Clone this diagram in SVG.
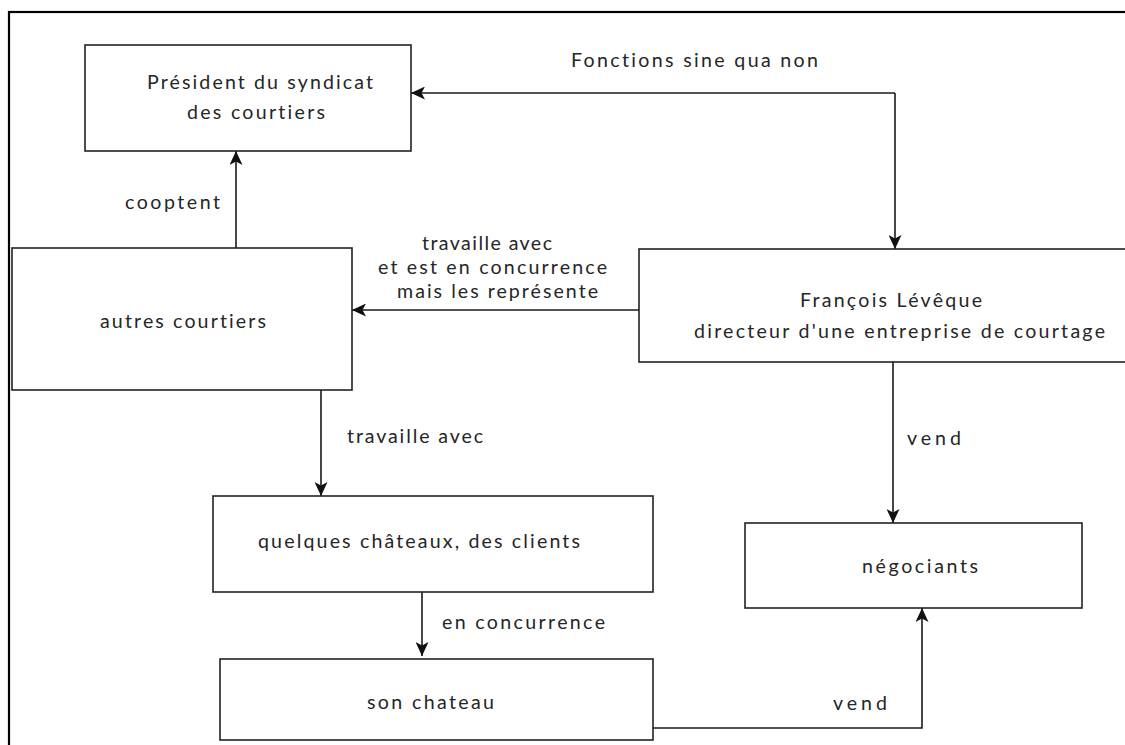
<svg xmlns="http://www.w3.org/2000/svg" width="1125" height="745" viewBox="0 0 1125 745">
  <style>
    .box { fill: #ffffff; stroke: #222222; stroke-width: 1.6; }
    .frame { fill: none; stroke: #000000; stroke-width: 2.2; }
    .edge { fill: none; stroke: #1a1a1a; stroke-width: 1.6; }
    .t { font-family: Lato, "Open Sans", "Liberation Sans", sans-serif; font-size: 19.6px; fill: #262626; font-variant-ligatures: none; }
  </style>
  <defs>
    <marker id="arr" markerUnits="userSpaceOnUse" markerWidth="15" markerHeight="13" refX="14" refY="6.5" orient="auto">
      <path d="M0,0 L14,6.5 L0,13 L3.5,6.5 Z" fill="#111111"/>
    </marker>
  </defs>
  <rect x="0" y="0" width="1125" height="745" fill="#ffffff"/>
  <rect class="frame" x="9" y="12" width="1140" height="760"/>

  <g id="connectors">
    <path class="edge" d="M895,93 L411,93" marker-end="url(#arr)"/>
    <path class="edge" d="M895,93 L895,249" marker-end="url(#arr)"/>
    <path class="edge" d="M236,248 L236,151" marker-end="url(#arr)"/>
    <path class="edge" d="M639,310 L352,310" marker-end="url(#arr)"/>
    <path class="edge" d="M321,390 L321,496" marker-end="url(#arr)"/>
    <path class="edge" d="M893,356 L893,523" marker-end="url(#arr)"/>
    <path class="edge" d="M422,592 L422,656" marker-end="url(#arr)"/>
    <path class="edge" d="M653,728 L922,728 L922,608" marker-end="url(#arr)"/>
    <text class="t" x="571" y="67" textLength="247" lengthAdjust="spacing">Fonctions sine qua non</text>
    <text class="t" x="125" y="209" textLength="95" lengthAdjust="spacing">cooptent</text>
    <text class="t" x="422" y="250" textLength="130" lengthAdjust="spacing">travaille avec</text>
    <text class="t" x="378" y="274" textLength="229" lengthAdjust="spacing">et est en concurrence</text>
    <text class="t" x="397" y="298" textLength="201" lengthAdjust="spacing">mais les représente</text>
    <text class="t" x="907" y="445" textLength="54" lengthAdjust="spacing">vend</text>
    <text class="t" x="347" y="443" textLength="136" lengthAdjust="spacing">travaille avec</text>
    <text class="t" x="442" y="629" textLength="163" lengthAdjust="spacing">en concurrence</text>
    <text class="t" x="833" y="710" textLength="54" lengthAdjust="spacing">vend</text>
  </g>

  <g id="president">
    <rect class="box" x="85" y="45" width="326" height="106"/>
    <text class="t" x="147" y="89" textLength="226" lengthAdjust="spacing">Président du syndicat</text>
    <text class="t" x="187" y="119" textLength="138" lengthAdjust="spacing">des courtiers</text>
  </g>

  <g id="autres-courtiers">
    <rect class="box" x="12" y="248" width="340" height="142"/>
    <text class="t" x="100" y="328" textLength="166" lengthAdjust="spacing">autres courtiers</text>
  </g>

  <g id="francois-leveque">
    <rect class="box" x="639" y="249" width="520" height="113"/>
    <text class="t" x="800" y="307" textLength="182" lengthAdjust="spacing">François Lévêque</text>
    <text class="t" x="694" y="338" textLength="411" lengthAdjust="spacing">directeur d'une entreprise de courtage</text>
  </g>

  <g id="quelques-chateaux">
    <rect class="box" x="213" y="496" width="440" height="96"/>
    <text class="t" x="258" y="548" textLength="322" lengthAdjust="spacing">quelques châteaux, des clients</text>
  </g>

  <g id="negociants">
    <rect class="box" x="745" y="523" width="337" height="85"/>
    <text class="t" x="862" y="573" textLength="116" lengthAdjust="spacing">négociants</text>
  </g>

  <g id="son-chateau">
    <rect class="box" x="220" y="659" width="433" height="81"/>
    <text class="t" x="367" y="709" textLength="127" lengthAdjust="spacing">son chateau</text>
  </g>
</svg>
